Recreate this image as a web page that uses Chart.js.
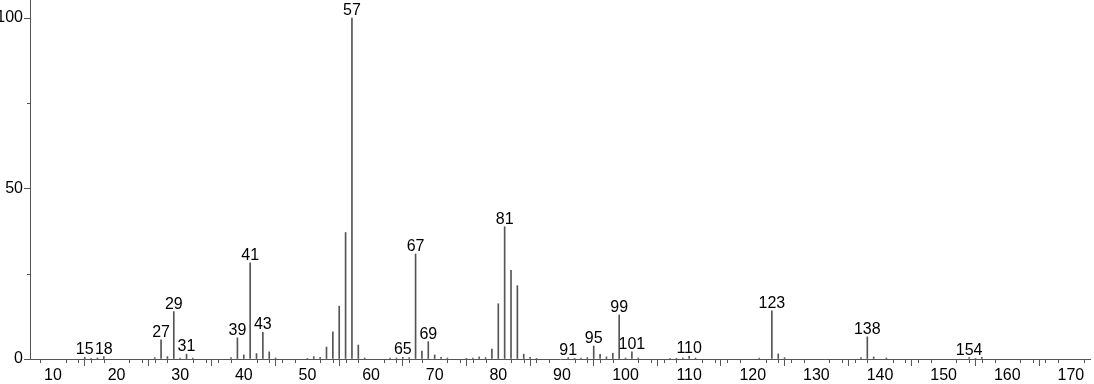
<!DOCTYPE html>
<html>
<head>
<meta charset="utf-8">
<script src="https://cdn.jsdelivr.net/npm/chart.js@4.4.0/dist/chart.umd.min.js"></script>
<style>
  html, body { margin: 0; padding: 0; background: #fff; }
  #wrap { width: 1094px; height: 384px; }
</style>
</head>
<body>
<div id="wrap"><canvas id="spectrum"></canvas></div>
<script>
// m/z values and relative intensities (%)
const masses = [
  15, 16, 17, 18, 26, 27, 28, 29, 30, 31, 32, 38, 39, 40, 41, 42, 43, 44, 45,
  50, 51, 52, 53, 54, 55, 56, 57, 58, 59, 63, 64, 65, 66, 67, 68, 69, 70, 71, 72,
  75, 76, 77, 78, 79, 80, 81, 82, 83, 84, 85, 86, 91, 92, 93, 94, 95, 96, 97, 98,
  99, 100, 101, 102, 107, 108, 109, 110, 111, 121, 123, 124, 125, 137, 138, 139,
  141, 154, 155, 156
];
const intensities = [
  0.5, 0.2, 0.3, 0.7, 0.4, 5.6, 0.7, 13.9, 0.3, 1.4, 0.3, 0.4, 6.2, 1.2, 28.2, 1.6, 7.8, 2.1, 0.3,
  0.2, 0.7, 0.5, 3.5, 8.0, 15.5, 37.1, 100, 4.1, 0.3, 0.3, 0.3, 0.5, 0.4, 30.8, 2.3, 5.1, 1.2, 0.5, 0.3,
  0.2, 0.3, 0.6, 0.4, 2.9, 16.2, 38.8, 26.0, 21.5, 1.4, 0.5, 0.2, 0.4, 0.2, 0.3, 0.4, 3.8, 1.4, 0.6, 1.7,
  12.9, 0.3, 2.1, 0.3, 0.2, 0.2, 0.3, 0.8, 0.3, 0.3, 14.1, 1.5, 0.4, 0.4, 6.5, 0.6,
  0.3, 0.4, 0.2, 0.5
];
// peaks that carry an m/z label
const labelledPeaks = [15, 18, 27, 29, 31, 39, 41, 43, 57, 65, 67, 69, 81, 91, 95, 99, 101, 110, 123, 138, 154];
// axis ticks
const xMajorTicks = [10, 20, 30, 40, 50, 60, 70, 80, 90, 100, 110, 120, 130, 140, 150, 160, 170];
const xMinorStep = 2;
const yMajorTicks = [0, 50, 100];
const yMinorTicks = [25, 75];

const axisColor = '#555';
const font = { family: '"Liberation Sans Narrow", "Arial Narrow", Arial, sans-serif', size: 16 };

// short minor ticks and the m/z labels above peaks
const extrasPlugin = {
  id: 'extras',
  afterDraw(chart) {
    const ctx = chart.ctx;
    const x = chart.scales.x, y = chart.scales.y;
    const area = chart.chartArea;
    ctx.save();
    ctx.strokeStyle = axisColor;
    ctx.lineWidth = 1;
    ctx.beginPath();
    for (let v = Math.ceil(x.min / xMinorStep) * xMinorStep; v <= x.max; v += xMinorStep) {
      if (xMajorTicks.includes(v)) continue;
      const px = Math.round(x.getPixelForValue(v)) + 0.5;
      ctx.moveTo(px, area.bottom);
      ctx.lineTo(px, area.bottom + 4);
    }
    yMinorTicks.forEach(v => {
      const py = Math.round(y.getPixelForValue(v)) + 0.5;
      ctx.moveTo(area.left - 3, py);
      ctx.lineTo(area.left, py);
    });
    ctx.stroke();

    ctx.fillStyle = '#000';
    ctx.font = `${font.size}px ${font.family}`;
    ctx.textAlign = 'center';
    ctx.textBaseline = 'alphabetic';
    labelledPeaks.forEach(m => {
      const i = masses.indexOf(m);
      if (i < 0) return;
      const px = x.getPixelForValue(m);
      const py = y.getPixelForValue(intensities[i]);
      ctx.fillText(String(m), px, py - 3);
    });
    ctx.restore();
  }
};

new Chart(document.getElementById('spectrum'), {
  type: 'bar',
  data: {
    datasets: [{
      data: masses.map((m, i) => ({ x: m, y: intensities[i] })),
      backgroundColor: '#555',
      borderWidth: 0,
      barThickness: 1,
      grouped: false
    }]
  },
  options: {
    responsive: true,
    maintainAspectRatio: false,
    animation: false,
    layout: { padding: { top: 0, right: 4, bottom: 0, left: 0 } },
    plugins: {
      legend: { display: false },
      tooltip: { enabled: false }
    },
    scales: {
      x: {
        type: 'linear',
        offset: false,
        min: 6.4,
        max: 173,
        afterFit: s => { s.height = 25; s.paddingLeft = 0; s.paddingRight = 0; },
        afterBuildTicks: s => { s.ticks = xMajorTicks.map(v => ({ value: v })); },
        ticks: {
          color: '#000',
          font: font,
          padding: 0,
          maxRotation: 0,
          autoSkip: false
        },
        grid: { drawOnChartArea: false, drawTicks: true, tickLength: 7, tickColor: axisColor },
        border: { color: axisColor, width: 1 }
      },
      y: {
        min: 0,
        max: 105.3,
        afterFit: s => { s.width = 30; s.paddingTop = 0; s.paddingBottom = 0; },
        afterBuildTicks: s => { s.ticks = yMajorTicks.map(v => ({ value: v })); },
        ticks: {
          color: '#000',
          font: font,
          padding: 1
        },
        grid: { drawOnChartArea: false, drawTicks: true, tickLength: 6, tickColor: axisColor },
        border: { color: axisColor, width: 1 }
      }
    }
  },
  plugins: [extrasPlugin]
});
</script>
</body>
</html>
